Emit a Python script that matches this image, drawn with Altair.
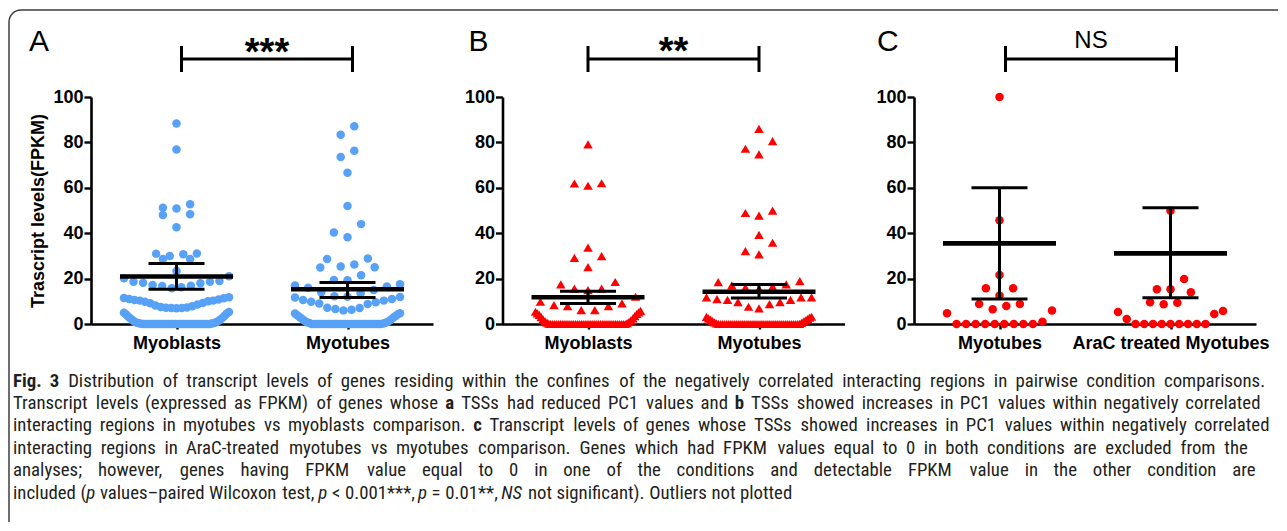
import math
import altair as alt
import pandas as pd

# ---------------- data ----------------
PANEL_LETTERS = ["A", "B", "C"]
SIG_LABELS = ["***", "**", "NS"]
A_CATS = ["Myoblasts", "Myotubes"]
B_CATS = ["Myoblasts", "Myotubes"]
C_CATS = ["Myotubes", "AraC treated Myotubes"]
Y_TITLE = "Trascript levels(FPKM)"
Y_TICKS = [0, 20, 40, 60, 80, 100]

A_MYOBLASTS = [88.3, 76.9, 52.8, 51.2, 50.9, 48.4, 48.0, 42.6,
               31.1, 31.0, 30.7, 30.0, 28.6, 28.6,
               23.3, 21.0, 20.2, 18.9, 18.6, 18.6, 18.2, 17.9, 17.2, 16.9, 16.7, 16.2, 15.7,
               11.8, 11.5, 11.3, 11.0, 10.8, 10.6, 10.3, 10.3, 10.0, 9.8, 9.3, 9.1, 8.6, 8.2,
               7.8, 7.5, 7.3, 7.2, 7.0, 7.0, 6.9,
               5.3, 5.0, 4.6, 4.2, 3.6, 3.2, 2.8, 2.4, 2.0, 1.6, 1.3, 1.0, 0.8, 0.6, 0.4, 0.3, 0.2, 0.1,
               0, 0, 0, 0, 0, 0, 0, 0, 0, 0, 0, 0, 0, 0, 0, 0,
               0, 0, 0, 0, 0, 0, 0, 0, 0, 0, 0, 0, 0, 0, 0, 0]
A_MYOTUBES = [87.1, 83.4, 76.3, 73.6, 66.6, 52.0, 44.0, 40.3, 38.2,
              28.9, 28.6, 26.2, 25.3, 25.0, 24.9, 21.5, 19.4, 19.3,
              17.5, 17.0, 16.5, 16.0, 15.0, 14.0, 13.5, 12.2, 12.0,
              11.9, 11.7, 11.0, 10.6, 10.3, 9.8, 9.6, 9.0, 8.8, 7.2, 7.0, 6.6, 6.3, 6.0,
              4.7, 4.6, 4.2, 3.8, 3.4, 3.0, 2.6, 2.2, 1.8, 1.4, 1.0, 0.8, 0.6, 0.4, 0.2,
              0, 0, 0, 0, 0, 0, 0, 0, 0, 0, 0, 0, 0, 0, 0,
              0, 0, 0, 0, 0, 0, 0, 0, 0, 0, 0, 0, 0, 0, 0]
B_MYOBLASTS = [79.1, 62.0, 61.9, 60.9, 33.6, 29.9, 29.1, 25.1,
               18.5, 17.5, 15.6, 15.6, 14.9, 12.0,
               9.8, 9.1, 8.3, 7.9, 7.9, 6.1, 6.1, 5.8,
               5.4, 5.1, 4.7, 4.4, 4.0, 3.5, 3.0, 2.5, 2.0, 1.6, 1.2, 0.9, 0.6, 0.4, 0.2,
               0, 0, 0, 0, 0, 0, 0, 0, 0, 0, 0, 0, 0, 0, 0, 0, 0, 0, 0, 0,
               0, 0, 0, 0, 0, 0, 0, 0, 0, 0, 0, 0, 0, 0, 0, 0, 0, 0, 0, 0]
B_MYOTUBES = [86.0, 80.6, 77.2, 74.7, 49.9, 48.9, 47.7, 39.3, 35.8, 32.1, 30.7,
              18.9, 18.4, 17.5, 17.0, 16.5, 16.0, 15.5,
              11.7, 11.7, 11.7, 11.0, 10.6, 10.6, 9.6, 9.6, 8.8, 7.6, 6.9,
              3.2, 3.1, 2.8, 2.5, 2.2, 1.9, 1.6, 1.3, 1.0, 0.7, 0.5, 0.3, 0.1,
              0, 0, 0, 0, 0, 0, 0, 0, 0, 0, 0, 0, 0, 0, 0, 0, 0, 0, 0, 0,
              0, 0, 0, 0, 0, 0, 0, 0, 0, 0, 0, 0, 0, 0, 0, 0, 0, 0, 0, 0]
C_MYOTUBES = [100.0, 45.7, 21.6, 15.7, 15.7, 12.5, 8.8, 8.8, 7.9, 6.5, 5.9, 4.7, 1.0,
              0, 0, 0, 0, 0, 0, 0, 0, 0]
C_ARAC = [49.9, 19.8, 15.3, 15.3, 14.0, 9.6, 9.4, 8.7, 5.7, 5.3, 4.4, 2.2,
          0, 0, 0, 0, 0, 0, 0, 0, 0]

# mean and SEM bars (outliers were not plotted, so these are read, not computed)
A_MEAN = [20.9, 15.3]
A_LO = [15.3, 11.7]
A_HI = [26.7, 18.3]
B_MEAN = [11.8, 14.2]
B_LO = [9.0, 11.4]
B_HI = [14.4, 17.4]
C_MEAN = [35.5, 31.1]
C_LO = [11.0, 11.6]
C_HI = [60.0, 51.2]

CAPTION = [
    [("Fig. 3", "b"), (" Distribution of transcript levels of genes residing within the confines of the negatively correlated interacting regions in pairwise condition comparisons.", "r")],
    [("Transcript levels (expressed as FPKM) of genes whose ", "r"), ("a", "b"),
     (" TSSs had reduced PC1 values and ", "r"), ("b", "b"),
     (" TSSs showed increases in PC1 values within negatively correlated", "r")],
    [("interacting regions in myotubes vs myoblasts comparison. ", "r"), ("c", "b"),
     (" Transcript levels of genes whose TSSs showed increases in PC1 values within negatively correlated", "r")],
    [("interacting regions in AraC-treated myotubes vs myotubes comparison. Genes which had FPKM values equal to 0 in both conditions are excluded from the", "r")],
    [("analyses; however, genes having FPKM value equal to 0 in one of the conditions and detectable FPKM value in the other condition are", "r")],
    [("included (", "r"), ("p", "i"), (" values\u2013paired Wilcoxon test, ", "r"), ("p", "i"),
     (" < 0.001***, ", "r"), ("p", "i"), (" = 0.01**, ", "r"), ("NS", "i"),
     (" not significant). Outliers not plotted", "r")],
]

# ---------------- layout / style ----------------
FONT = "Liberation Sans"
CAP_FONT = "Roboto Condensed"
W, H = 342, 227
UNIT = W / 2.0           # px per category step (x domain [-0.5, 1.5])
ORIGIN_X, ORIGIN_Y = 92, 97   # page position of panel A plot origin (reference)
ROW_T = 6.0              # values closer than this share a swarm row
SLOT = 13.6              # px between neighbours in a row
MAXW = 105.0             # widest row, px
MEAN_HALF, CAP_HALF = 56.5, 28.0
BLUE, RED = "#57A1F6", "#FF0000"


def px2val(ypx):
    return (ORIGIN_Y + H - ypx) * 100.0 / H


def swarm(values, idx):
    vals = sorted(values)
    out, i = [], 0
    while i < len(vals):
        start, row = vals[i], []
        while i < len(vals) and vals[i] < start + ROW_T:
            row.append(vals[i])
            i += 1
        n = len(row)
        sp = SLOT if n <= 1 else min(SLOT, MAXW / (n - 1))
        slots = []
        if n % 2 == 1:
            slots.append(0.0)
            k = 1
            while len(slots) < n:
                slots.append(-k)
                if len(slots) < n:
                    slots.append(k)
                k += 1
        else:
            k = 0.5
            while len(slots) < n:
                slots.append(-k)
                slots.append(k)
                k += 1
        for v, s in zip(row, slots):
            out.append({"x": idx + s * sp / UNIT, "v": v})
    return out


# --- caption metrics: Roboto advance widths (1/2048 em), condensed factor ---
RW = {' ': 507, '(': 684, ')': 696, '*': 882, ',': 393, '-': 553, '.': 539, ';': 424,
      '<': 1041, '=': 1124, '\u2013': 1200,
      'A': 1336, 'C': 1333, 'D': 1343, 'F': 1132, 'G': 1395, 'K': 1284, 'M': 1788,
      'N': 1460, 'O': 1408, 'P': 1292, 'S': 1217, 'T': 1222, 'W': 1817,
      'a': 1089, 'b': 1120, 'c': 1045, 'd': 1126, 'e': 1058, 'f': 695, 'g': 1122,
      'h': 1100, 'i': 485, 'j': 477, 'k': 1013, 'l': 485, 'm': 1751, 'n': 1102,
      'o': 1139, 'p': 1120, 'q': 1131, 'r': 677, 's': 1030, 't': 655, 'u': 1101,
      'v': 967, 'w': 1502, 'x': 991, 'y': 946, 'z': 991}
COND = 0.915


def em_width(text, style):
    w = sum(RW.get(ch, 1150) for ch in text) / 2048.0 * COND
    return w * (1.04 if style == "b" else 1.0)


def words_of(line):
    words = [[]]
    for text, style in line:
        parts = text.split(" ")
        for j, part in enumerate(parts):
            if j > 0:
                words.append([])
            if part:
                words[-1].append((part, style))
    return [w for w in words if w]


CAP_LEFT = 14
CAP_RIGHT = [1267, 1262, 1271, 1249, 1257, None]
CAP_BASE0, CAP_STEP = 386.5, 22.4
SPACE_EM = 507 / 2048.0 * COND

line_words = [words_of(l) for l in CAPTION]
ratios = []
for k in range(4):
    ws = line_words[k]
    nat = sum(em_width(t, s) for w in ws for t, s in w) + (len(ws) - 1) * SPACE_EM
    ratios.append((CAP_RIGHT[k] - CAP_LEFT) / nat)
CAP_SIZE = min(18.8, min(ratios) * 0.995)

cap_rows = []
for k, ws in enumerate(line_words):
    wsum = sum(em_width(t, s) for w in ws for t, s in w) * CAP_SIZE
    space = SPACE_EM * CAP_SIZE
    if CAP_RIGHT[k] is not None and len(ws) > 1:
        gap = max(space * 0.8, (CAP_RIGHT[k] - CAP_LEFT - wsum) / (len(ws) - 1))
    else:
        gap = space
    x = CAP_LEFT
    base = CAP_BASE0 + k * CAP_STEP
    for w in ws:
        for t, s in w:
            cap_rows.append({"px": x - ORIGIN_X, "py": base - ORIGIN_Y, "t": t, "s": s})
            x += em_width(t, s) * CAP_SIZE
        x += gap
cap_df = pd.DataFrame(cap_rows)


def panel(letter, letter_x, cats, groups, mean, lo, hi, sig, sig_size, sig_weight,
          sig_base, br_shift, shape, color, size, y_title, extras=None):
    rows = []
    for i, vals in enumerate(groups):
        rows += swarm(vals, i)
    pts = pd.DataFrame(rows)
    xs = alt.Scale(domain=[-0.5, 1.5], nice=False, zero=False)
    ys = alt.Scale(domain=[0, 100], nice=False, zero=False)
    label_expr = "[" + ",".join("'" + c + "'" for c in cats) + "][datum.value]"
    xaxis = alt.Axis(values=[0, 1], labelExpr=label_expr, grid=False, domainColor="black",
                     domainWidth=2.6, tickColor="black", tickWidth=2.4, tickSize=5,
                     labelFont=FONT, labelFontWeight="bold", labelFontSize=18,
                     labelColor="black", labelPadding=5, labelOverlap=False, labelFlush=False,
                     labelLimit=500, title=None)
    yargs = dict(values=Y_TICKS, grid=False, domainColor="black", domainWidth=2.6,
                 tickColor="black", tickWidth=2.4, tickSize=7, labelFont=FONT,
                 labelFontWeight="bold", labelFontSize=18, labelColor="black",
                 labelPadding=1)
    if y_title:
        yargs.update(title=y_title, titleFont=FONT, titleFontWeight="bold", titleFontSize=18,
                     titleColor="black", titlePadding=5)
    else:
        yargs.update(title=None)
    yaxis = alt.Axis(**yargs)
    sc = dict(scale=xs, axis=xaxis)
    sy = dict(scale=ys, axis=yaxis)

    layers = [
        alt.Chart(pts).mark_point(filled=True, shape=shape, size=size, color=color,
                                  opacity=1, strokeWidth=0).encode(
            x=alt.X("x:Q", **sc), y=alt.Y("v:Q", **sy))
    ]
    st = pd.DataFrame({
        "i": [0, 1], "mean": mean, "lo": lo, "hi": hi,
        "m1": [i - MEAN_HALF / UNIT for i in (0, 1)], "m2": [i + MEAN_HALF / UNIT for i in (0, 1)],
        "c1": [i - CAP_HALF / UNIT for i in (0, 1)], "c2": [i + CAP_HALF / UNIT for i in (0, 1)],
    })
    layers += [
        alt.Chart(st).mark_rule(color="black", strokeWidth=3).encode(
            x=alt.X("i:Q", **sc), y=alt.Y("lo:Q", **sy), y2="hi:Q"),
        alt.Chart(st).mark_rule(color="black", strokeWidth=3).encode(
            x=alt.X("c1:Q", **sc), x2="c2:Q", y=alt.Y("lo:Q", **sy)),
        alt.Chart(st).mark_rule(color="black", strokeWidth=3).encode(
            x=alt.X("c1:Q", **sc), x2="c2:Q", y=alt.Y("hi:Q", **sy)),
        alt.Chart(st).mark_rule(color="black", strokeWidth=4.6).encode(
            x=alt.X("m1:Q", **sc), x2="m2:Q", y=alt.Y("mean:Q", **sy)),
    ]
    d = br_shift / UNIT
    br = pd.DataFrame({"x0": [0.0 + d], "x1": [1.0 + d], "y": [px2val(59)]})
    bt = pd.DataFrame({"x": [0.0 + d, 1.0 + d], "y1": [px2val(72)] * 2, "y2": [px2val(46)] * 2})
    layers += [
        alt.Chart(br).mark_rule(color="black", strokeWidth=3).encode(
            x=alt.X("x0:Q", **sc), x2="x1:Q", y=alt.Y("y:Q", **sy)),
        alt.Chart(bt).mark_rule(color="black", strokeWidth=3).encode(
            x=alt.X("x:Q", **sc), y=alt.Y("y1:Q", **sy), y2="y2:Q"),
        alt.Chart(pd.DataFrame({"x": [0.5 + d], "y": [px2val(sig_base)], "t": [sig]})).mark_text(
            font=FONT, fontSize=sig_size, fontWeight=sig_weight, color="black",
            align="center", baseline="alphabetic").encode(
            x=alt.X("x:Q", **sc), y=alt.Y("y:Q", **sy), text="t:N"),
        alt.Chart(pd.DataFrame({"t": [letter]})).mark_text(
            font=FONT, fontSize=30, color="black", align="left",
            baseline="alphabetic").encode(
            x=alt.value(letter_x), y=alt.value(51 - ORIGIN_Y), text="t:N"),
    ]
    if extras:
        layers += extras
    return alt.layer(*layers).properties(width=W, height=H)


# frame and caption (drawn in panel A coordinates)
FR = 12
FL, FT = 10 - ORIGIN_X, 10 - ORIGIN_Y
FRIGHT, FBOTTOM = 1279 - ORIGIN_X, 522 - ORIGIN_Y
FCOL = "#3c3c3c"
one = pd.DataFrame({"a": [0]})
frame = [
    alt.Chart(one).mark_rule(color=FCOL, strokeWidth=1.5).encode(
        x=alt.value(FL + FR), x2=alt.value(FRIGHT), y=alt.value(FT)),
    alt.Chart(one).mark_rule(color=FCOL, strokeWidth=1.5).encode(
        x=alt.value(FL), y=alt.value(FT + FR), y2=alt.value(FBOTTOM)),
    alt.Chart(one).mark_arc(radius=FR + 0.75, radius2=FR - 0.75, theta=1.5 * math.pi,
                            theta2=2 * math.pi, color=FCOL).encode(
        x=alt.value(FL + FR), y=alt.value(FT + FR)),
]
STYLE = {"r": {}, "b": {"fontWeight": "bold"}, "i": {"fontStyle": "italic"}}
caption = []
for s, props in STYLE.items():
    sub = cap_df[cap_df["s"] == s]
    if len(sub):
        caption.append(
            alt.Chart(sub).mark_text(font=CAP_FONT, fontSize=CAP_SIZE, color="#231f20",
                                     align="left", baseline="alphabetic", **props).encode(
                x=alt.X("px:Q", scale=None),
                y=alt.Y("py:Q", scale=None),
                text="t:N"))

pA = panel(PANEL_LETTERS[0], 30 - 92, A_CATS, [A_MYOBLASTS, A_MYOTUBES], A_MEAN, A_LO, A_HI,
           SIG_LABELS[0], 38, "bold", 65, 5, "circle", BLUE, 72, Y_TITLE, frame + caption)
pB = panel(PANEL_LETTERS[1], 469 - 503, B_CATS, [B_MYOBLASTS, B_MYOTUBES], B_MEAN, B_LO, B_HI,
           SIG_LABELS[1], 38, "bold", 64, 0, "triangle-up", RED, 90, None)
pC = panel(PANEL_LETTERS[2], 878 - 915, C_CATS, [C_MYOTUBES, C_ARAC], C_MEAN, C_LO, C_HI,
           SIG_LABELS[2], 24, "normal", 47.6, 6, "circle", RED, 72, None)

chart = alt.hconcat(pA, pB, pC, spacing=69.5, bounds="flush").properties(
    padding={"left": 0, "top": 1, "right": 0, "bottom": 0}
).configure_view(stroke=None)

chart.save("out.html", embed_options={"renderer": "svg", "actions": False})
